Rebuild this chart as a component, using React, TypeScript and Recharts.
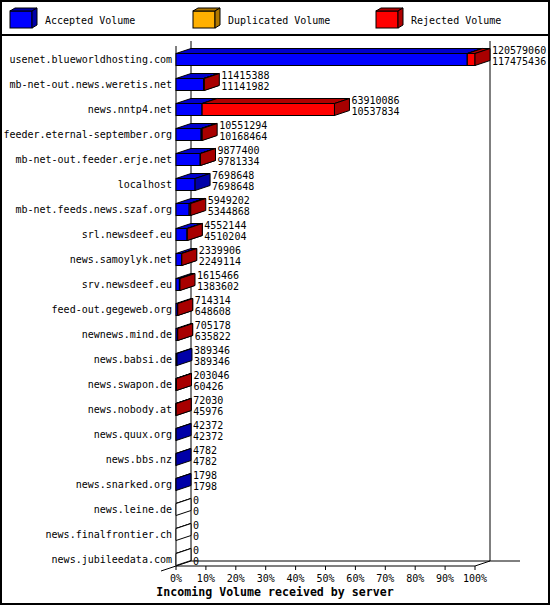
import React from 'react';
import { BarChart, Bar, XAxis, YAxis, LabelList } from 'recharts';

const servers = [
  'usenet.blueworldhosting.com',
  'mb-net-out.news.weretis.net',
  'news.nntp4.net',
  'feeder.eternal-september.org',
  'mb-net-out.feeder.erje.net',
  'localhost',
  'mb-net.feeds.news.szaf.org',
  'srl.newsdeef.eu',
  'news.samoylyk.net',
  'srv.newsdeef.eu',
  'feed-out.gegeweb.org',
  'newnews.mind.de',
  'news.babsi.de',
  'news.swapon.de',
  'news.nobody.at',
  'news.quux.org',
  'news.bbs.nz',
  'news.snarked.org',
  'news.leine.de',
  'news.finalfrontier.ch',
  'news.jubileedata.com',
];

const totalVolume = [
  120579060, 11415388, 63910086, 10551294, 9877400, 7698648, 5949202, 4552144,
  2339906, 1615466, 714314, 705178, 389346, 203046, 72030, 42372, 4782, 1798, 0, 0, 0,
];

const acceptedVolume = [
  117475436, 11141982, 10537834, 10168464, 9781334, 7698648, 5344868, 4510204,
  2249114, 1383602, 648608, 635822, 389346, 60426, 45976, 42372, 4782, 1798, 0, 0, 0,
];

const percentTicks = [0, 10, 20, 30, 40, 50, 60, 70, 80, 90, 100];

const legendNames = ['Accepted Volume', 'Duplicated Volume', 'Rejected Volume'];
const legendFront = ['#0000FF', '#FFB000', '#FF0000'];
const legendSide = ['#0000A8', '#B07800', '#B00000'];

const titleText = 'Incoming Volume received by server';

const maxTotal = Math.max(...totalVolume);
const data = servers.map((server, i) => ({
  server,
  total: totalVolume[i],
  accepted: acceptedVolume[i],
  acceptedPct: (acceptedVolume[i] / maxTotal) * 100,
  rejectedPct: ((totalVolume[i] - acceptedVolume[i]) / maxTotal) * 100,
}));

// geometry
const W = 550;
const H = 605;
const PLOT_LEFT = 176;
const PLOT_RIGHT = 475;
const PLOT_TOP = 46.5;
const PLOT_BOTTOM = 571.5;
const FLOOR_Y = 566;
const WALL_TOP = 41;
const DX = 15;
const DY = -5;
const FONT = '"DejaVu Sans Mono", "Liberation Mono", monospace';

const BLUE = '#0000FF';
const BLUE_TOP = '#0000CC';
const BLUE_SIDE = '#0000A8';
const RED = '#FF0000';
const RED_TOP = '#B00000';
const RED_SIDE = '#A80000';

const Box = ({ x, y, w, h, front, top, side }: any) => (
  <g stroke="#000" strokeWidth={1}>
    <rect x={x} y={y} width={w} height={h} fill={front} />
    <polygon points={`${x},${y} ${x + w},${y} ${x + w + DX},${y + DY} ${x + DX},${y + DY}`} fill={top} />
    <polygon
      points={`${x + w},${y} ${x + w + DX},${y + DY} ${x + w + DX},${y + h + DY} ${x + w},${y + h}`}
      fill={side}
    />
  </g>
);

const AcceptedShape = (props: any) => {
  const { x, y, width, height, payload } = props;
  const w = Math.max(0, Number(width) || 0);
  const empty = payload && payload.total === 0;
  return (
    <Box
      x={Number(x)}
      y={Number(y)}
      w={w}
      h={Number(height)}
      front={empty ? '#FFFFFF' : BLUE}
      top={empty ? '#FFFFFF' : BLUE_TOP}
      side={empty ? '#FFFFFF' : BLUE_SIDE}
    />
  );
};

const RejectedShape = (props: any) => {
  const { x, y, width, height } = props;
  const w = Number(width) || 0;
  if (w <= 0) return null;
  return <Box x={Number(x)} y={Number(y)} w={w} h={Number(height)} front={RED} top={RED_TOP} side={RED_SIDE} />;
};

const ValueLabel = (props: any) => {
  const vb = props.viewBox && props.viewBox.width !== undefined ? props.viewBox : props;
  const x = Number(vb.x);
  const y = Number(vb.y);
  const width = Number(vb.width) || 0;
  const height = Number(vb.height) || 0;
  const row = data[props.index];
  if (!row) return null;
  const tx = x + width + DX + 2;
  const cy = y + height / 2;
  return (
    <g fontFamily={FONT} fontSize={10} fill="#000">
      <text x={tx} y={cy - 9} dominantBaseline="central">{row.total}</text>
      <text x={tx} y={cy + 2} dominantBaseline="central">{row.accepted}</text>
    </g>
  );
};

const PercentTick = (props: any) => {
  const { x, payload } = props;
  return (
    <g>
      <line x1={x} x2={x} y1={FLOOR_Y} y2={FLOOR_Y + 4} stroke="#000" />
      <text x={x} y={FLOOR_Y + 12} textAnchor="middle" dominantBaseline="central" fontFamily={FONT} fontSize={10} fill="#000">
        {payload.value}%
      </text>
    </g>
  );
};

const Underlay = () => {
  const legendX = [10, 193, 376];
  return (
    <svg width={W} height={H} style={{ position: 'absolute', left: 0, top: 0 }}>
      <rect x={0} y={0} width={W} height={H} fill="#FFFFFF" />
      <rect x={1} y={1} width={W - 2} height={H - 2} fill="none" stroke="#000" strokeWidth={2} />
      <line x1={0} x2={W} y1={35} y2={35} stroke="#000" strokeWidth={2} />
      {legendNames.map((name, i) => {
        const bx = legendX[i];
        const by = 11;
        const bw = 22;
        const bh = 17;
        const d = 5;
        const e = -3;
        return (
          <g key={name}>
            <g stroke="#000" strokeWidth={1}>
              <rect x={bx} y={by} width={bw} height={bh} fill={legendFront[i]} />
              <polygon points={`${bx},${by} ${bx + bw},${by} ${bx + bw + d},${by + e} ${bx + d},${by + e}`} fill={legendSide[i]} />
              <polygon points={`${bx + bw},${by} ${bx + bw + d},${by + e} ${bx + bw + d},${by + bh + e} ${bx + bw},${by + bh}`} fill={legendSide[i]} />
            </g>
            <text x={bx + 35} y={20.5} dominantBaseline="central" fontFamily={FONT} fontSize={10} fill="#000">
              {name}
            </text>
          </g>
        );
      })}
      <g stroke="#000" strokeWidth={1} fill="none">
        <line x1={PLOT_LEFT + DX} x2={PLOT_LEFT + DX} y1={WALL_TOP} y2={FLOOR_Y + DY} />
        <line x1={PLOT_RIGHT + DX} x2={PLOT_RIGHT + DX} y1={WALL_TOP} y2={FLOOR_Y + DY} />
        <line x1={PLOT_LEFT + DX} x2={PLOT_RIGHT + DX + 30} y1={FLOOR_Y + DY} y2={FLOOR_Y + DY} />
        <line x1={PLOT_LEFT} x2={PLOT_LEFT} y1={WALL_TOP + 5} y2={FLOOR_Y} />
        <line x1={PLOT_LEFT} x2={PLOT_RIGHT} y1={FLOOR_Y} y2={FLOOR_Y} />
        <line x1={PLOT_RIGHT} x2={PLOT_RIGHT + DX} y1={FLOOR_Y} y2={FLOOR_Y + DY} />
        <line x1={PLOT_LEFT - 15} x2={PLOT_LEFT + DX} y1={FLOOR_Y + 5} y2={FLOOR_Y + DY} />
      </g>
      <text x={W / 2} y={592} textAnchor="middle" dominantBaseline="central" fontFamily={FONT} fontSize={11.6} fontWeight="bold" fill="#000">
        {titleText}
      </text>
    </svg>
  );
};

export default function App() {
  return (
    <div style={{ position: 'absolute', left: 0, top: 0, width: W, height: H, background: '#fff' }}>
      <Underlay />
      <div style={{ position: 'absolute', left: 0, top: 0 }}>
        <BarChart
          layout="vertical"
          width={W}
          height={H}
          data={data}
          margin={{ top: PLOT_TOP, right: W - PLOT_RIGHT, bottom: H - PLOT_BOTTOM - 20, left: 0 }}
          barSize={12}
          style={{ overflow: 'visible' }}
        >
          <XAxis
            type="number"
            domain={[0, 100]}
            ticks={percentTicks}
            height={20}
            axisLine={false}
            tickLine={false}
            tickSize={0}
            tickMargin={0}
            tick={<PercentTick />}
            interval={0}
          />
          <YAxis
            type="category"
            dataKey="server"
            width={PLOT_LEFT}
            axisLine={false}
            tickLine={false}
            tickSize={0}
            tickMargin={4}
            interval={0}
            tick={{ fontFamily: FONT, fontSize: 10, fill: '#000' }}
          />
          <Bar dataKey="acceptedPct" stackId="v" name="Accepted Volume" fill={BLUE} shape={<AcceptedShape />} isAnimationActive={false} />
          <Bar dataKey="rejectedPct" stackId="v" name="Rejected Volume" fill={RED} shape={<RejectedShape />} isAnimationActive={false}>
            <LabelList dataKey="total" content={<ValueLabel />} />
          </Bar>
        </BarChart>
      </div>
    </div>
  );
}
